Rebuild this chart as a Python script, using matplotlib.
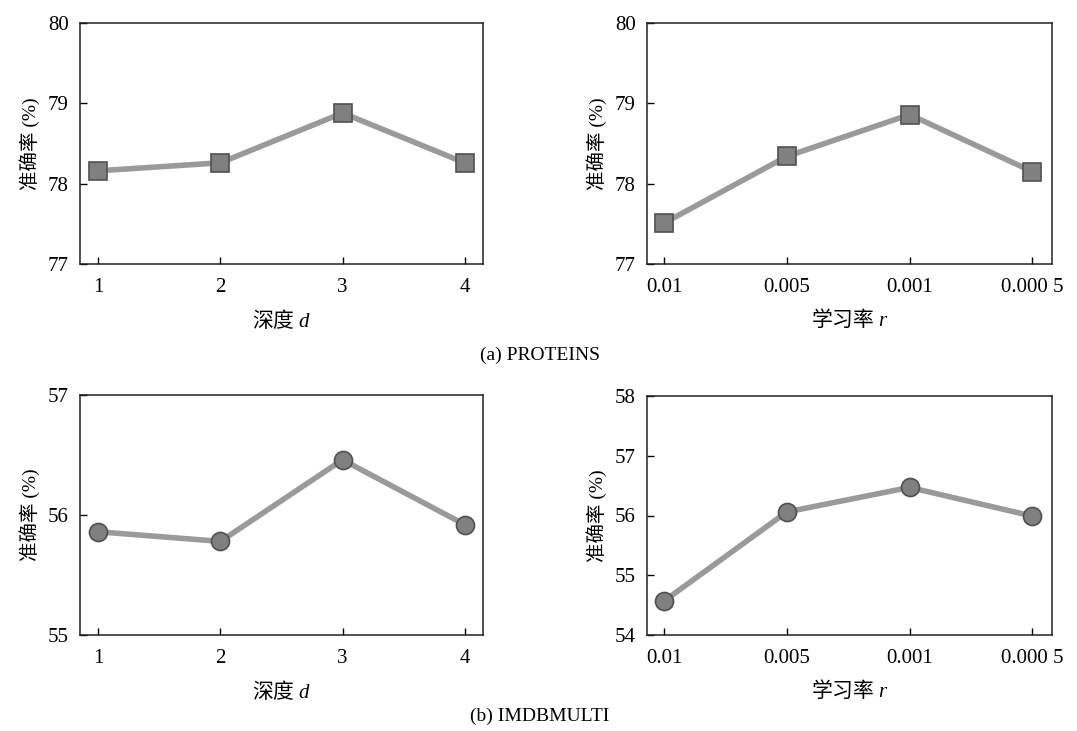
import numpy as np
import matplotlib
matplotlib.use("Agg")
import matplotlib.pyplot as plt

plt.rcParams['font.family'] = ['Liberation Serif', 'Noto Sans CJK SC', 'DejaVu Sans']
plt.rcParams['mathtext.fontset'] = 'custom'
plt.rcParams['mathtext.rm'] = 'Noto Sans CJK SC'
plt.rcParams['mathtext.it'] = 'Liberation Serif:italic'

# data
depth = [1, 2, 3, 4]
lr_labels = ['0.01', '0.005', '0.001', '0.000 5']

proteins_depth = [78.16, 78.26, 78.88, 78.26]
proteins_lr = [77.51, 78.34, 78.86, 78.15]
imdb_depth = [55.86, 55.78, 56.46, 55.92]
imdb_lr = [54.57, 56.06, 56.47, 55.99]

W, H = 1077, 731
fig = plt.figure(figsize=(W / 100, H / 100), dpi=100)


def px_axes(left, top, right, bottom):
    return fig.add_axes([left / W, 1 - bottom / H, (right - left) / W, (bottom - top) / H])


def style(ax, ylim, yticks, xlabel):
    ax.set_ylim(*ylim)
    ax.set_yticks(yticks)
    ax.tick_params(direction='in', length=5, width=1, labelsize=15, pad=8)
    ax.tick_params(axis='x', pad=10)
    for s in ax.spines.values():
        s.set_linewidth(1.1)
        s.set_color('#222222')
    ax.set_ylabel('准确率 (%)', fontsize=14, labelpad=6)
    ax.set_xlabel(xlabel, fontsize=15, labelpad=8)


line_kw = dict(color='#9a9a9a', lw=4, markerfacecolor='#808080',
               markeredgecolor='#505050', markeredgewidth=1.2)

label_d = r'$\mathrm{深度}\ d$'
label_r = r'$\mathrm{学习率}\ r$'

# (a) PROTEINS
ax1 = px_axes(80, 23, 483, 264)
ax1.plot(depth, proteins_depth, marker='s', ms=13, **line_kw)
ax1.set_xticks(depth)
ax1.set_xlim(0.85, 4.15)
style(ax1, (77, 80), [77, 78, 79, 80], label_d)

ax2 = px_axes(647, 23, 1052, 264)
pos = np.arange(len(lr_labels))
ax2.plot(pos, proteins_lr, marker='s', ms=13, **line_kw)
ax2.set_xticks(pos)
ax2.set_xticklabels(lr_labels)
ax2.set_xlim(-0.14, 3.16)
style(ax2, (77, 80), [77, 78, 79, 80], label_r)

# (b) IMDBMULTI
ax3 = px_axes(80, 395, 483, 635)
ax3.plot(depth, imdb_depth, marker='o', ms=13, **line_kw)
ax3.set_xticks(depth)
ax3.set_xlim(0.85, 4.15)
style(ax3, (55, 57), [55, 56, 57], label_d)

ax4 = px_axes(647, 396, 1052, 635)
ax4.plot(pos, imdb_lr, marker='o', ms=13, **line_kw)
ax4.set_xticks(pos)
ax4.set_xticklabels(lr_labels)
ax4.set_xlim(-0.14, 3.16)
style(ax4, (54, 58), [54, 55, 56, 57, 58], label_r)

fig.text(540 / W, 1 - 355 / H, '(a) PROTEINS', ha='center', va='center', fontsize=14)
fig.text(540 / W, 1 - 716 / H, '(b) IMDBMULTI', ha='center', va='center', fontsize=14)

fig.savefig('out.png', dpi=100)
